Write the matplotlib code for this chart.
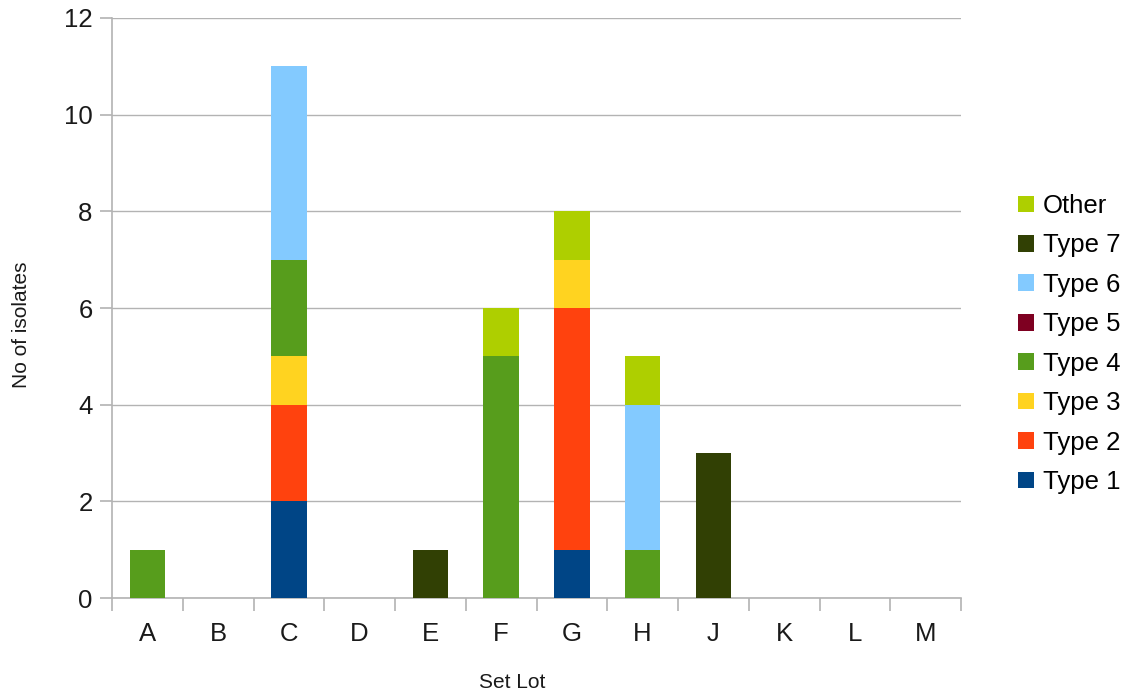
import matplotlib
matplotlib.use('Agg')
import matplotlib.pyplot as plt
import numpy as np

plt.rcParams['font.family'] = ['Liberation Sans', 'DejaVu Sans']

# data
lots = ["A", "B", "C", "D", "E", "F", "G", "H", "J", "K", "L", "M"]
series = ["Type 1", "Type 2", "Type 3", "Type 4", "Type 5", "Type 6", "Type 7", "Other"]
type1 = [0, 0, 2, 0, 0, 0, 1, 0, 0, 0, 0, 0]
type2 = [0, 0, 2, 0, 0, 0, 5, 0, 0, 0, 0, 0]
type3 = [0, 0, 1, 0, 0, 0, 1, 0, 0, 0, 0, 0]
type4 = [1, 0, 2, 0, 0, 5, 0, 1, 0, 0, 0, 0]
type5 = [0, 0, 0, 0, 0, 0, 0, 0, 0, 0, 0, 0]
type6 = [0, 0, 4, 0, 0, 0, 0, 3, 0, 0, 0, 0]
type7 = [0, 0, 0, 0, 1, 0, 0, 0, 3, 0, 0, 0]
other = [0, 0, 0, 0, 0, 1, 1, 1, 0, 0, 0, 0]

COLORS = ["#004586", "#ff420e", "#ffd320", "#579d1c",
          "#7e0021", "#83caff", "#314004", "#aecf00"]
GRID = "#b3b3b3"
TXT = "#1a1a1a"

fig = plt.figure(figsize=(11.34, 7.0), dpi=100)
ax = fig.add_axes([0.0988, 0.1457, 0.7487, 0.8286])

x = np.arange(len(lots))
bottom = np.zeros(len(lots))
handles = []
for name, vals, col in zip(series,
                           [type1, type2, type3, type4, type5, type6, type7, other],
                           COLORS):
    vals = np.array(vals, dtype=float)
    h = ax.bar(x, vals, 0.5, bottom=bottom, color=col, label=name, zorder=3)
    handles.append(h)
    bottom += vals

ax.set_xlim(-0.5, len(lots) - 0.5)
ax.set_ylim(0, 12)
ax.set_yticks(range(0, 13, 2))
ax.set_xticks(x)
ax.set_xticklabels(lots)
ax.set_xticks(np.arange(-0.5, len(lots), 1.0), minor=True)

ax.yaxis.grid(True, color=GRID, lw=1, zorder=0)
ax.set_axisbelow(True)
for s in ["top", "right"]:
    ax.spines[s].set_visible(False)
for s in ["left", "bottom"]:
    ax.spines[s].set_color(GRID)
    ax.spines[s].set_linewidth(1.2)

ax.tick_params(axis="x", which="major", length=0, pad=17, labelsize=18.5, labelcolor=TXT)
ax.tick_params(axis="x", which="minor", length=9, color=GRID, width=1.2)
ax.tick_params(axis="y", which="major", length=9, color=GRID, width=1.2, pad=5,
               labelsize=18.5, labelcolor=TXT)

# axis titles placed as in the original
fig.text(512 / 1134, 1 - 683 / 700, "Set Lot", fontsize=15, color=TXT,
         ha="center", va="center")
fig.text(22 / 1134, 1 - 325 / 700, "No of isolates", fontsize=15, color=TXT,
         ha="center", va="center", rotation=90)

leg = ax.legend(handles[::-1], series[::-1], loc="center left",
                bbox_to_anchor=(1.067, 0.438), frameon=False, fontsize=18.5,
                handlelength=0.62, handleheight=0.62, handletextpad=0.35,
                labelspacing=0.6, borderaxespad=0, borderpad=0)

fig.savefig("out.png", dpi=100)
plt.close()
